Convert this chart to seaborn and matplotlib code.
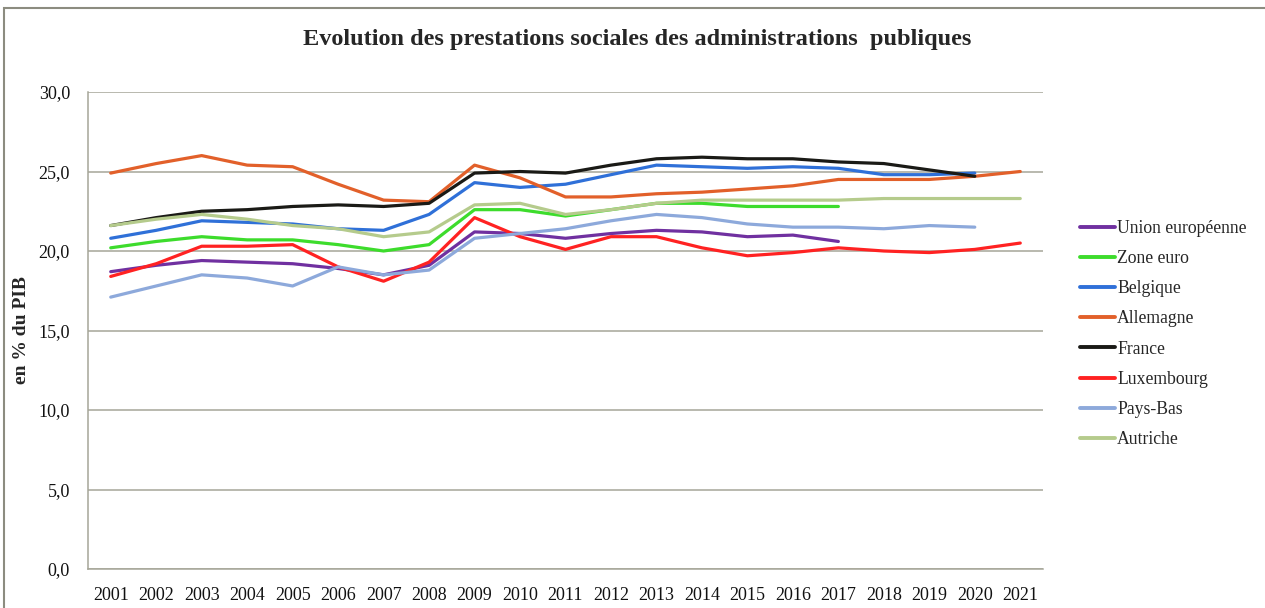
import numpy as np
import pandas as pd
import matplotlib
matplotlib.use("Agg")
import matplotlib.pyplot as plt
import seaborn as sns
from matplotlib.ticker import FuncFormatter
from matplotlib.patches import Rectangle

years = list(range(2001, 2022))

union_europeenne = [18.7, 19.1, 19.4, 19.3, 19.2, 18.9, 18.5, 19.1, 21.2, 21.1, 20.8,
                    21.1, 21.3, 21.2, 20.9, 21.0, 20.6, None, None, None, None]
zone_euro = [20.2, 20.6, 20.9, 20.7, 20.7, 20.4, 20.0, 20.4, 22.6, 22.6, 22.2,
             22.6, 23.0, 23.0, 22.8, 22.8, 22.8, None, None, None, None]
belgique = [20.8, 21.3, 21.9, 21.8, 21.7, 21.4, 21.3, 22.3, 24.3, 24.0, 24.2,
            24.8, 25.4, 25.3, 25.2, 25.3, 25.2, 24.8, 24.8, 24.9, None]
allemagne = [24.9, 25.5, 26.0, 25.4, 25.3, 24.2, 23.2, 23.1, 25.4, 24.6, 23.4,
             23.4, 23.6, 23.7, 23.9, 24.1, 24.5, 24.5, 24.5, 24.7, 25.0]
france = [21.6, 22.1, 22.5, 22.6, 22.8, 22.9, 22.8, 23.0, 24.9, 25.0, 24.9,
          25.4, 25.8, 25.9, 25.8, 25.8, 25.6, 25.5, 25.1, 24.7, None]
luxembourg = [18.4, 19.2, 20.3, 20.3, 20.4, 19.0, 18.1, 19.3, 22.1, 20.9, 20.1,
              20.9, 20.9, 20.2, 19.7, 19.9, 20.2, 20.0, 19.9, 20.1, 20.5]
pays_bas = [17.1, 17.8, 18.5, 18.3, 17.8, 19.0, 18.5, 18.8, 20.8, 21.1, 21.4,
            21.9, 22.3, 22.1, 21.7, 21.5, 21.5, 21.4, 21.6, 21.5, None]
autriche = [21.6, 22.0, 22.3, 22.0, 21.6, 21.4, 20.9, 21.2, 22.9, 23.0, 22.3,
            22.6, 23.0, 23.2, 23.2, 23.2, 23.2, 23.3, 23.3, 23.3, 23.3]

series = {
    "Union européenne": union_europeenne,
    "Zone euro": zone_euro,
    "Belgique": belgique,
    "Allemagne": allemagne,
    "France": france,
    "Luxembourg": luxembourg,
    "Pays-Bas": pays_bas,
    "Autriche": autriche,
}

palette = {
    "Union européenne": "#7030A0",
    "Zone euro": "#3DDC2C",
    "Belgique": "#2F70D8",
    "Allemagne": "#E2602A",
    "France": "#1A1A16",
    "Luxembourg": "#FF2222",
    "Pays-Bas": "#8DA9DB",
    "Autriche": "#B5CB8C",
}

rows = []
for name, vals in series.items():
    for y, v in zip(years, vals):
        rows.append({"annee": y, "valeur": np.nan if v is None else v, "pays": name})
df = pd.DataFrame(rows)

sns.set_style("white")
plt.rcParams["font.family"] = ["Liberation Serif", "DejaVu Serif"]

fig = plt.figure(figsize=(12.65, 6.08), dpi=100)
ax = fig.add_axes([88 / 1265, 39 / 608, 955 / 1265, 477 / 608])

# outer frame of the chart (cut off on the right and bottom)
fig.patches.append(Rectangle((4 / 1265, -0.05), 1.1, (608 - 8) / 608 + 0.05,
                             transform=fig.transFigure, fill=False,
                             edgecolor="#8C8C80", linewidth=1.5))

sns.lineplot(data=df, x="annee", y="valeur", hue="pays", palette=palette,
             hue_order=list(series.keys()), linewidth=2.3, ax=ax)

ax.set_xlim(2000.5, 2021.5)
ax.set_ylim(0, 30)
ax.set_xticks(years)
ax.set_yticks(np.arange(0, 31, 5))
ax.yaxis.set_major_formatter(FuncFormatter(lambda v, p: f"{v:.1f}".replace(".", ",")))
ax.tick_params(axis="both", labelsize=13, length=0, colors="#111111")
ax.tick_params(axis="x", pad=13)
ax.tick_params(axis="y", pad=13)

ax.grid(axis="y", color="#A6A698", linewidth=1.1)
ax.set_axisbelow(True)
for s in ["top", "right"]:
    ax.spines[s].set_visible(False)
ax.spines["left"].set_color("#A6A698")
ax.spines["bottom"].set_color("#A6A698")
ax.spines["left"].set_linewidth(1.1)
ax.spines["bottom"].set_linewidth(1.1)

ax.set_xlabel("")
ax.set_ylabel("en % du PIB", fontsize=14, fontweight="bold")
ax.yaxis.set_label_coords(-(88 - 30) / 955, 0.5)

fig.suptitle("Evolution des prestations sociales des administrations  publiques",
             x=637 / 1265, y=1 - 39 / 608, va="center",
             fontsize=17.5, fontweight="bold")

leg = ax.legend(loc="upper left", bbox_to_anchor=(1080 / 1265, 1 - 220 / 608),
                bbox_transform=fig.transFigure, frameon=False, fontsize=12.7,
                handlelength=2.0, handletextpad=0.1, labelspacing=0.745,
                borderpad=0, borderaxespad=0)
for line in leg.get_lines():
    line.set_linewidth(2.8)

fig.savefig("out.png", dpi=100)
